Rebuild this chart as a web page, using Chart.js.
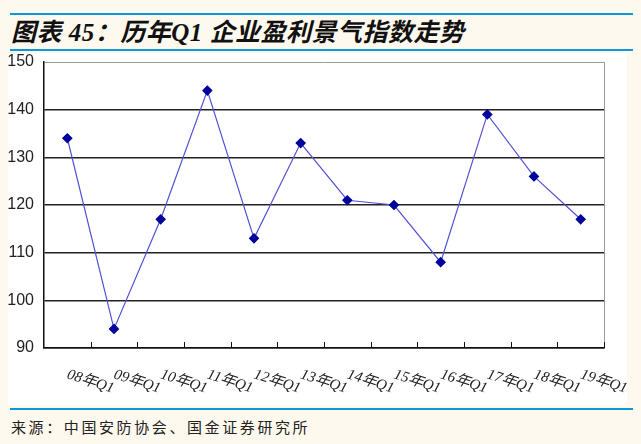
<!DOCTYPE html>
<html>
<head>
<meta charset="utf-8">
<script src="https://cdn.jsdelivr.net/npm/chart.js@4.4.1/dist/chart.umd.min.js"></script>
<style>
    body { margin: 0; width: 641px; height: 444px; background: #fef9ee; position: relative; overflow: hidden; }
    .rule { position: absolute; left: 10px; width: 623px; height: 2px; background: #0a9ad8; }
    #title { position: absolute; left: 11px; top: 12px; font: italic bold 25px "Liberation Serif", "Noto Sans CJK SC"; letter-spacing: 0.5px; color: #111; white-space: nowrap; }
    #source { position: absolute; left: 11px; top: 416px; font: 15px "Noto Sans CJK SC"; letter-spacing: 2.6px; color: #222; white-space: nowrap; }
    #panel { position: absolute; left: 8px; top: 53px; background: #fff; }
</style>
</head>
<body>
<div class="rule" style="top:13px"></div>
<div id="title">图表 45：历年Q1 企业盈利景气指数走势</div>
<div class="rule" style="top:49px"></div>
<canvas id="panel" width="619" height="352"></canvas>
<div class="rule" style="top:408px"></div>
<div id="source">来源：中国安防协会、国金证券研究所</div>

<script>
const years = ['08年Q1', '09年Q1', '10年Q1', '11年Q1', '12年Q1', '13年Q1',
    '14年Q1', '15年Q1', '16年Q1', '17年Q1', '18年Q1', '19年Q1'];
const profitIndex = [134, 94, 117, 144, 113, 133, 121, 120, 108, 139, 126, 117];
const yTicks = [90, 100, 110, 120, 130, 140, 150];

// x labels are slanted down to the right and the ticks point inwards,
// chart.js can't do either, so this draws them off the category scale
const excelAxis = {
    id: 'excelAxis',
    afterDraw(chart) {
        const ctx = chart.ctx;
        const area = chart.chartArea;
        const x = chart.scales.x;
        ctx.save();

        // gray frame on the right
        ctx.strokeStyle = '#9a9a9a';
        ctx.lineWidth = 1;
        ctx.beginPath();
        ctx.moveTo(area.right + 0.5, area.top);
        ctx.lineTo(area.right + 0.5, area.bottom);
        ctx.stroke();

        // inner tick marks between categories
        ctx.strokeStyle = '#111';
        ctx.lineWidth = 1;
        for (let i = 1; i <= years.length; i++) {
            let px = i < years.length
                ? (x.getPixelForValue(i - 1) + x.getPixelForValue(i)) / 2
                : area.right;
            px = Math.round(px) + 0.5;
            ctx.beginPath();
            ctx.moveTo(px, area.bottom);
            ctx.lineTo(px, area.bottom - 6);
            ctx.stroke();
        }

        ctx.fillStyle = '#222';
        ctx.font = 'italic 15px "Liberation Serif", "Noto Sans CJK SC"';
        ctx.textAlign = 'left';
        ctx.textBaseline = 'alphabetic';
        years.forEach((label, i) => {
            ctx.save();
            ctx.translate(x.getPixelForValue(i) - 1, area.bottom + 30);
            ctx.rotate(18 * Math.PI / 180);
            ctx.fillText(label, 0, 0);
            ctx.restore();
        });
        ctx.restore();
    }
};

const config = {
    type: 'line',
    data: {
        labels: years,
        datasets: [{
            label: '企业盈利景气指数',
            data: profitIndex,
            borderColor: '#5151d6',
            borderWidth: 1.2,
            backgroundColor: '#00009c',
            pointBackgroundColor: '#00009c',
            pointBorderColor: '#00009c',
            pointStyle: 'rectRot',
            pointRadius: 4.5,
            tension: 0,
            fill: false
        }]
    },
    options: {
        responsive: false,
        animation: false,
        devicePixelRatio: 1,
        layout: {
            padding: { top: 9, right: 23, bottom: 0, left: 0 }
        },
        plugins: {
            legend: { display: false },
            tooltip: { enabled: false }
        },
        scales: {
            x: {
                offset: true,
                grid: { display: false },
                border: { display: true, color: '#111', width: 1.5 },
                ticks: { display: false },
                afterFit: (scale) => { scale.height = 57; }
            },
            y: {
                min: 90,
                max: 150,
                afterBuildTicks: (scale) => {
                    scale.ticks = yTicks.map(v => ({ value: v }));
                },
                afterFit: (scale) => {
                    scale.width = 36;
                    scale.paddingTop = 0;
                    scale.paddingBottom = 0;
                },
                grid: {
                    drawTicks: false,
                    color: (c) => c.tick && c.tick.value === 150 ? '#9a9a9a' : '#222',
                    lineWidth: (c) => c.tick && c.tick.value === 150 ? 1 : 1.5
                },
                border: { display: true, color: '#111', width: 1.5 },
                ticks: {
                    padding: 10,
                    color: '#222',
                    font: { family: '"Liberation Sans Narrow", "Liberation Sans"', size: 16 }
                }
            }
        }
    },
    plugins: [excelAxis]
};

new Chart(document.getElementById('panel'), config);
</script>
</body>
</html>
